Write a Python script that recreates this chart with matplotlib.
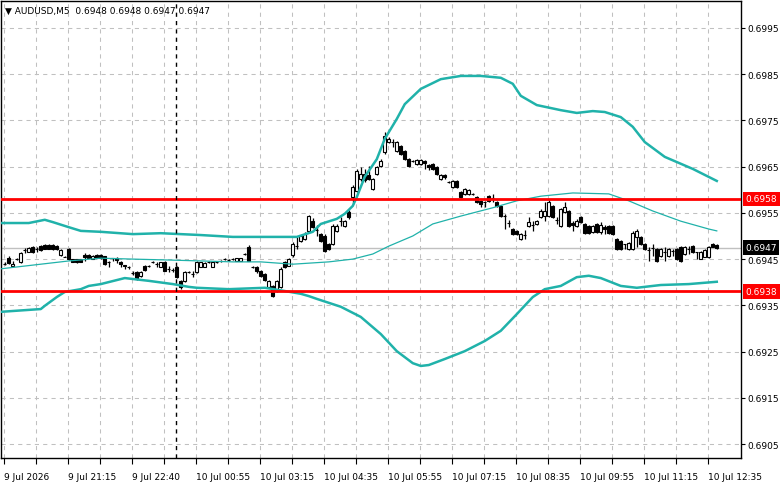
import matplotlib
matplotlib.use('Agg')
import matplotlib.pyplot as plt
import numpy as np

title = '\u25bc AUDUSD,M5  0.6948 0.6948 0.6947 0.6947'

# OHLC of the 5-minute bars, oldest first
opens = [0.69439, 0.69452, 0.69435, 0.69450, 0.69444, 0.69470, 0.69465, 0.69476, 0.69472, 0.69478,
         0.69481, 0.69481, 0.69481, 0.69478, 0.69459, 0.69455, 0.69472, 0.69450, 0.69450, 0.69450,
         0.69459, 0.69459, 0.69450, 0.69459, 0.69459, 0.69457, 0.69444, 0.69452, 0.69452, 0.69444,
         0.69437, 0.69433, 0.69420, 0.69422, 0.69414, 0.69435, 0.69435, 0.69444, 0.69439, 0.69433,
         0.69444, 0.69429, 0.69427, 0.69433, 0.69403, 0.69403, 0.69422, 0.69418, 0.69422, 0.69433,
         0.69433, 0.69444, 0.69433, 0.69444, 0.69446, 0.69450, 0.69448, 0.69450, 0.69446, 0.69446,
         0.69461, 0.69476, 0.69433, 0.69433, 0.69424, 0.69418, 0.69390, 0.69392, 0.69381, 0.69390,
         0.69444, 0.69435, 0.69459, 0.69478, 0.69489, 0.69494, 0.69511, 0.69532, 0.69513, 0.69504,
         0.69500, 0.69483, 0.69483, 0.69511, 0.69532, 0.69522, 0.69552, 0.69584, 0.69597, 0.69623,
         0.69634, 0.69632, 0.69602, 0.69634, 0.69651, 0.69682, 0.69703, 0.69703, 0.69684, 0.69695,
         0.69684, 0.69666, 0.69662, 0.69656, 0.69656, 0.69662, 0.69654, 0.69656, 0.69649, 0.69623,
         0.69632, 0.69617, 0.69606, 0.69619, 0.69595, 0.69591, 0.69591, 0.69591, 0.69584, 0.69576,
         0.69574, 0.69586, 0.69582, 0.69574, 0.69565, 0.69543, 0.69528, 0.69515, 0.69511, 0.69494,
         0.69502, 0.69522, 0.69524, 0.69526, 0.69541, 0.69543, 0.69543, 0.69565, 0.69535, 0.69522,
         0.69552, 0.69554, 0.69528, 0.69522, 0.69541, 0.69526, 0.69522, 0.69509, 0.69526, 0.69509,
         0.69519, 0.69522, 0.69522, 0.69494, 0.69489, 0.69483, 0.69472, 0.69472, 0.69498, 0.69498,
         0.69483, 0.69470, 0.69474, 0.69472, 0.69457, 0.69465, 0.69457, 0.69468, 0.69472, 0.69476,
         0.69461, 0.69472, 0.69478, 0.69465, 0.69450, 0.69455, 0.69455, 0.69483, 0.69480]
highs = [0.69444, 0.69457, 0.69446, 0.69452, 0.69465, 0.69474, 0.69476, 0.69478, 0.69476, 0.69481,
         0.69483, 0.69483, 0.69483, 0.69481, 0.69472, 0.69457, 0.69474, 0.69450, 0.69450, 0.69450,
         0.69463, 0.69461, 0.69459, 0.69461, 0.69461, 0.69457, 0.69446, 0.69452, 0.69455, 0.69446,
         0.69437, 0.69435, 0.69424, 0.69424, 0.69424, 0.69437, 0.69437, 0.69446, 0.69444, 0.69444,
         0.69446, 0.69435, 0.69431, 0.69435, 0.69405, 0.69424, 0.69424, 0.69424, 0.69446, 0.69444,
         0.69444, 0.69446, 0.69444, 0.69446, 0.69448, 0.69452, 0.69450, 0.69452, 0.69452, 0.69452,
         0.69463, 0.69481, 0.69435, 0.69435, 0.69427, 0.69420, 0.69405, 0.69394, 0.69405, 0.69433,
         0.69446, 0.69452, 0.69487, 0.69498, 0.69502, 0.69509, 0.69545, 0.69539, 0.69524, 0.69506,
         0.69504, 0.69485, 0.69526, 0.69526, 0.69541, 0.69535, 0.69556, 0.69610, 0.69645, 0.69649,
         0.69645, 0.69651, 0.69625, 0.69651, 0.69666, 0.69725, 0.69714, 0.69710, 0.69705, 0.69697,
         0.69686, 0.69669, 0.69664, 0.69666, 0.69666, 0.69664, 0.69656, 0.69658, 0.69651, 0.69634,
         0.69634, 0.69619, 0.69621, 0.69621, 0.69597, 0.69604, 0.69602, 0.69593, 0.69586, 0.69578,
         0.69576, 0.69589, 0.69591, 0.69576, 0.69567, 0.69548, 0.69535, 0.69517, 0.69513, 0.69506,
         0.69513, 0.69541, 0.69532, 0.69535, 0.69558, 0.69574, 0.69578, 0.69567, 0.69541, 0.69561,
         0.69574, 0.69556, 0.69532, 0.69537, 0.69543, 0.69528, 0.69524, 0.69524, 0.69528, 0.69530,
         0.69524, 0.69524, 0.69524, 0.69496, 0.69491, 0.69483, 0.69487, 0.69511, 0.69515, 0.69500,
         0.69485, 0.69476, 0.69483, 0.69474, 0.69474, 0.69476, 0.69474, 0.69472, 0.69474, 0.69478,
         0.69478, 0.69478, 0.69481, 0.69465, 0.69468, 0.69472, 0.69478, 0.69485, 0.69482]
lows = [0.69437, 0.69439, 0.69435, 0.69448, 0.69442, 0.69463, 0.69465, 0.69463, 0.69465, 0.69468,
        0.69472, 0.69472, 0.69470, 0.69470, 0.69457, 0.69455, 0.69448, 0.69444, 0.69442, 0.69444,
        0.69446, 0.69452, 0.69450, 0.69452, 0.69450, 0.69437, 0.69433, 0.69446, 0.69442, 0.69433,
        0.69429, 0.69429, 0.69416, 0.69405, 0.69411, 0.69424, 0.69433, 0.69442, 0.69433, 0.69433,
        0.69424, 0.69422, 0.69422, 0.69409, 0.69385, 0.69401, 0.69420, 0.69411, 0.69420, 0.69433,
        0.69433, 0.69442, 0.69433, 0.69442, 0.69444, 0.69448, 0.69446, 0.69448, 0.69446, 0.69446,
        0.69459, 0.69446, 0.69431, 0.69420, 0.69411, 0.69403, 0.69388, 0.69368, 0.69379, 0.69388,
        0.69431, 0.69435, 0.69455, 0.69472, 0.69487, 0.69491, 0.69509, 0.69517, 0.69500, 0.69487,
        0.69465, 0.69470, 0.69481, 0.69509, 0.69522, 0.69519, 0.69537, 0.69569, 0.69595, 0.69619,
        0.69617, 0.69621, 0.69599, 0.69632, 0.69649, 0.69677, 0.69701, 0.69692, 0.69682, 0.69675,
        0.69664, 0.69649, 0.69660, 0.69654, 0.69654, 0.69645, 0.69643, 0.69643, 0.69632, 0.69621,
        0.69623, 0.69615, 0.69604, 0.69604, 0.69582, 0.69589, 0.69589, 0.69589, 0.69571, 0.69563,
        0.69563, 0.69574, 0.69574, 0.69563, 0.69541, 0.69515, 0.69519, 0.69502, 0.69502, 0.69491,
        0.69494, 0.69519, 0.69511, 0.69524, 0.69539, 0.69532, 0.69541, 0.69539, 0.69526, 0.69519,
        0.69550, 0.69519, 0.69511, 0.69519, 0.69528, 0.69504, 0.69504, 0.69506, 0.69506, 0.69504,
        0.69504, 0.69504, 0.69502, 0.69470, 0.69470, 0.69472, 0.69470, 0.69470, 0.69476, 0.69481,
        0.69470, 0.69446, 0.69457, 0.69444, 0.69455, 0.69446, 0.69455, 0.69457, 0.69448, 0.69444,
        0.69459, 0.69461, 0.69463, 0.69450, 0.69450, 0.69455, 0.69452, 0.69476, 0.69472]
closes = [0.69439, 0.69442, 0.69439, 0.69450, 0.69463, 0.69470, 0.69474, 0.69465, 0.69472, 0.69470,
          0.69472, 0.69472, 0.69472, 0.69472, 0.69470, 0.69455, 0.69450, 0.69444, 0.69444, 0.69444,
          0.69455, 0.69452, 0.69457, 0.69452, 0.69452, 0.69439, 0.69444, 0.69452, 0.69448, 0.69439,
          0.69435, 0.69433, 0.69420, 0.69407, 0.69422, 0.69427, 0.69435, 0.69444, 0.69439, 0.69444,
          0.69424, 0.69429, 0.69427, 0.69411, 0.69390, 0.69422, 0.69422, 0.69418, 0.69444, 0.69444,
          0.69442, 0.69444, 0.69444, 0.69444, 0.69446, 0.69450, 0.69448, 0.69450, 0.69452, 0.69452,
          0.69461, 0.69446, 0.69433, 0.69424, 0.69414, 0.69405, 0.69403, 0.69370, 0.69403, 0.69429,
          0.69433, 0.69450, 0.69483, 0.69478, 0.69500, 0.69504, 0.69543, 0.69519, 0.69513, 0.69489,
          0.69468, 0.69472, 0.69522, 0.69522, 0.69532, 0.69532, 0.69541, 0.69606, 0.69641, 0.69634,
          0.69621, 0.69623, 0.69623, 0.69649, 0.69662, 0.69716, 0.69710, 0.69703, 0.69703, 0.69677,
          0.69666, 0.69651, 0.69662, 0.69664, 0.69664, 0.69658, 0.69649, 0.69645, 0.69634, 0.69632,
          0.69628, 0.69617, 0.69619, 0.69606, 0.69584, 0.69602, 0.69599, 0.69591, 0.69574, 0.69569,
          0.69574, 0.69576, 0.69582, 0.69565, 0.69543, 0.69543, 0.69528, 0.69504, 0.69504, 0.69504,
          0.69502, 0.69530, 0.69524, 0.69532, 0.69554, 0.69554, 0.69574, 0.69541, 0.69535, 0.69558,
          0.69563, 0.69522, 0.69524, 0.69532, 0.69530, 0.69506, 0.69506, 0.69522, 0.69509, 0.69524,
          0.69515, 0.69506, 0.69504, 0.69472, 0.69472, 0.69483, 0.69485, 0.69506, 0.69511, 0.69483,
          0.69472, 0.69470, 0.69474, 0.69446, 0.69472, 0.69465, 0.69472, 0.69468, 0.69450, 0.69446,
          0.69476, 0.69472, 0.69465, 0.69465, 0.69465, 0.69470, 0.69476, 0.69476, 0.69475]

# bollinger bands (20, 2) at some bars
upper_bar = [-1, 6, 10, 12, 16, 19, 24, 32, 39, 49, 57, 67, 73, 77, 79, 83, 85, 87, 88, 90,
             93, 95, 98, 100, 104, 109, 114, 119, 124, 127, 129, 133, 139, 143, 147, 150, 154, 157, 160, 165,
             172, 178]
upper_price = [0.69528, 0.69528, 0.69535, 0.69530, 0.69519, 0.69511, 0.69509, 0.69504, 0.69506, 0.69502,
               0.69498, 0.69498, 0.69498, 0.69509, 0.69526, 0.69537, 0.69548, 0.69565, 0.69584, 0.69628,
               0.69666, 0.69710, 0.69753, 0.69785, 0.69818, 0.69839, 0.69846, 0.69846, 0.69842, 0.69829,
               0.69803, 0.69783, 0.69772, 0.69766, 0.69770, 0.69768, 0.69757, 0.69736, 0.69703, 0.69671,
               0.69645, 0.69619]
mid_bar = [-1, 9, 14, 16, 24, 32, 41, 49, 57, 64, 72, 81, 87, 92, 96, 102, 107, 114, 122, 128,
           134, 142, 151, 156, 162, 169, 176, 178]
mid_price = [0.69429, 0.69439, 0.69444, 0.69446, 0.69452, 0.69450, 0.69448, 0.69446, 0.69444, 0.69444,
             0.69439, 0.69444, 0.69450, 0.69461, 0.69478, 0.69500, 0.69526, 0.69543, 0.69561, 0.69576,
             0.69586, 0.69593, 0.69591, 0.69576, 0.69554, 0.69532, 0.69515, 0.69511]
lower_bar = [-1, 9, 10, 13, 15, 19, 21, 24, 30, 32, 36, 42, 46, 48, 56, 65, 70, 74, 76, 78,
             84, 89, 94, 98, 102, 104, 106, 110, 115, 120, 124, 128, 132, 135, 139, 143, 146, 149, 154, 158,
             164, 171, 178]
lower_price = [0.69336, 0.69342, 0.69349, 0.69368, 0.69379, 0.69385, 0.69392, 0.69396, 0.69409, 0.69407,
               0.69403, 0.69396, 0.69390, 0.69388, 0.69385, 0.69388, 0.69381, 0.69375, 0.69370, 0.69364,
               0.69347, 0.69325, 0.69288, 0.69251, 0.69225, 0.69219, 0.69221, 0.69234, 0.69251, 0.69273,
               0.69295, 0.69331, 0.69368, 0.69385, 0.69392, 0.69411, 0.69414, 0.69409, 0.69392, 0.69388,
               0.69394, 0.69396, 0.69401]

levels = [0.6958, 0.6938]
separator_bar = 42.9
price_ticks = [0.6905, 0.6915, 0.6925, 0.6935, 0.6945, 0.6955, 0.6965, 0.6975, 0.6985, 0.6995]
time_labels = ['9 Jul 2026', '9 Jul 21:15', '9 Jul 22:40', '10 Jul 00:55', '10 Jul 03:15', '10 Jul 04:35',
               '10 Jul 05:55', '10 Jul 07:15', '10 Jul 08:35', '10 Jul 09:55', '10 Jul 11:15', '10 Jul 12:35']

o = np.array(opens)
h = np.array(highs)
l = np.array(lows)
c = np.array(closes)
idx = np.arange(len(c))

fig = plt.figure(figsize=(7.81, 4.89), dpi=100)
ax = fig.add_axes([0.001, 1 - 459 / 489, 740 / 781, 457 / 489])
ax.set_xlim(-1, 184)
ax.set_ylim(0.69020, 0.70008)

grid_col = '#c0c0c0'
for p in price_ticks:
    ax.axhline(p, color=grid_col, lw=0.75, ls=(0, (4, 4)), zorder=0)
for g in np.arange(0, 184, 8):
    ax.axvline(g - 0.25, color=grid_col, lw=0.75, ls=(0, (4, 4)), zorder=0)

# last price line
ax.axhline(c[-1], color=grid_col, lw=1.0, zorder=1)

# candles
ax.vlines(idx, l, h, color='black', lw=0.9, zorder=2)
face = np.where(c > o, 'white', 'black')
ax.bar(idx, np.abs(c - o), bottom=np.minimum(o, c), width=0.72, color=face,
       edgecolor='black', linewidth=0.8, zorder=3)

band_col = '#20b2aa'
ax.plot(upper_bar, upper_price, color=band_col, lw=1.8, zorder=4)
ax.plot(lower_bar, lower_price, color=band_col, lw=1.8, zorder=4)
ax.plot(mid_bar, mid_price, color=band_col, lw=0.9, zorder=4)

for lv in levels:
    ax.axhline(lv, color='red', lw=2.0, zorder=5)

ax.axvline(separator_bar, color='black', lw=1.0, ls=(0, (3, 3)), zorder=5)

for s in ax.spines.values():
    s.set_color('black')
    s.set_linewidth(1.0)

ax.yaxis.tick_right()
ax.set_yticks(price_ticks)
ax.set_yticklabels(['%.4f' % p for p in price_ticks])
ax.tick_params(axis='y', length=3, width=0.8, pad=2, labelsize=6.5, colors='black')

ax.set_xticks(np.arange(0, 184, 8) - 0.25, minor=True)
ax.set_xticks(np.arange(0, 177, 16) - 0.25)
ax.set_xticklabels(time_labels, ha='left')
ax.tick_params(axis='x', which='both', length=4, width=0.8, pad=6, labelsize=6.5, colors='black')

# coloured price tags on the right scale
tags = [(levels[0], 'red'), (levels[1], 'red'), (c[-1], 'black')]
for val, col in tags:
    ax.text(1.006, val, '%.4f' % val, transform=ax.get_yaxis_transform(), color='white',
            fontsize=6.5, va='center', ha='left', clip_on=False, zorder=10,
            bbox=dict(boxstyle='square,pad=0.3', fc=col, ec='none'))

fig.text(5 / 781, 1 - 11 / 489, title, fontsize=6.5, va='center', ha='left', color='black')

fig.savefig('out.png', dpi=100)
